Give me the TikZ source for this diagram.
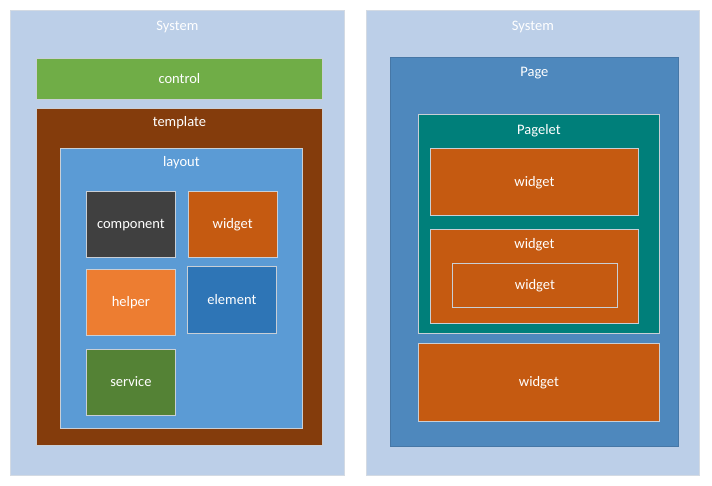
\documentclass[tikz,border=0pt]{standalone}
\usepackage{fontspec}
\setmainfont{Carlito}
\usetikzlibrary{positioning}
\definecolor{sysblue}{HTML}{BCCFE8}
\definecolor{sysedge}{HTML}{D3DAE3}
\definecolor{boxedge}{HTML}{C9CFD6}
\definecolor{ctrlgreen}{HTML}{70AD47}
\definecolor{tplbrown}{HTML}{843C0C}
\definecolor{layblue}{HTML}{5B9BD5}
\definecolor{compgray}{HTML}{404040}
\definecolor{widgetorange}{HTML}{C55A11}
\definecolor{helperorange}{HTML}{ED7D31}
\definecolor{elemblue}{HTML}{2E75B6}
\definecolor{servgreen}{HTML}{548235}
\definecolor{pageblue}{HTML}{4E88BD}
\definecolor{pageedge}{HTML}{4677A6}
\definecolor{pageletteal}{HTML}{007F7A}

\begin{document}
\begin{tikzpicture}[
		x=1pt, y=-1pt,
		box/.style={draw=boxedge, line width=0.8pt, anchor=north west, inner sep=0pt, text=white, text height=8.8pt, text depth=0pt, font=\fontsize{14.5}{17}\selectfont},
		title/.style={text=white, inner sep=0pt, text height=6.8pt, text depth=0pt, font=\fontsize{14.5}{17}\selectfont},
		small/.style={box, minimum width=89pt, minimum height=66pt}
		]
		\useasboundingbox (0,0) rectangle (712,485);
		
		% --- Lewy system ---
		\node[box, draw=sysedge, fill=sysblue, minimum width=334pt, minimum height=465pt] (sysL) at (10,10) {};
		\node[title] (sysLtitle) at ([yshift=-17pt]sysL.north) {System};
		\node[box, fill=ctrlgreen, minimum width=286pt, minimum height=41pt] (control) at (36,58) {control};
		\node[box, fill=tplbrown, minimum width=286pt, minimum height=337pt] (template) at (36,108) {};
		\node[title] (tpltitle) at ([yshift=-15pt]template.north) {template};
		\node[box, fill=layblue, minimum width=242pt, minimum height=280pt] (layout) at (60,148) {};
		\node[title] (laytitle) at ([yshift=-15pt]layout.north) {layout};
		
		% --- Elementy w layout ---
		\node[small, fill=compgray] (component) at (86,191) {component};
		\node[small, fill=widgetorange, right=12pt of component] (widgetA) {widget};
		\node[small, fill=helperorange, below=11pt of component] (helper) {helper};
		\node[small, fill=elemblue, minimum height=67pt] (element) at (187,266) {element};
		\node[small, fill=servgreen, below=13pt of helper] (service) {service};
		
		% --- Prawy system ---
		\node[box, draw=sysedge, fill=sysblue, minimum width=333pt, minimum height=465pt] (sysR) at (366,10) {};
		\node[title] (sysRtitle) at ([yshift=-17pt]sysR.north) {System};
		\node[box, draw=pageedge, fill=pageblue, minimum width=288pt, minimum height=389pt] (page) at (390,57) {};
		\node[title] (pagetitle) at ([yshift=-16.5pt]page.north) {Page};
		\node[box, fill=pageletteal, minimum width=241pt, minimum height=219pt] (pagelet) at (418,114) {};
		\node[title] (pagelettitle) at ([yshift=-17pt]pagelet.north) {Pagelet};
		
		% --- Widgety ---
		\node[box, fill=widgetorange, minimum width=208pt, minimum height=67pt] (widgetB) at (430,148) {widget};
		\node[box, fill=widgetorange, minimum width=208pt, minimum height=94pt] (widgetC) at (430,229) {};
		\node[title] (widgetCtitle) at ([yshift=-16pt]widgetC.north) {widget};
		\node[box, fill=widgetorange, minimum width=165pt, minimum height=44pt] (widgetD) at (452,263) {widget};
		\node[box, fill=widgetorange, minimum width=241pt, minimum height=78pt] (widgetE) at (418,343) {widget};
		
	\end{tikzpicture}
\end{document}
